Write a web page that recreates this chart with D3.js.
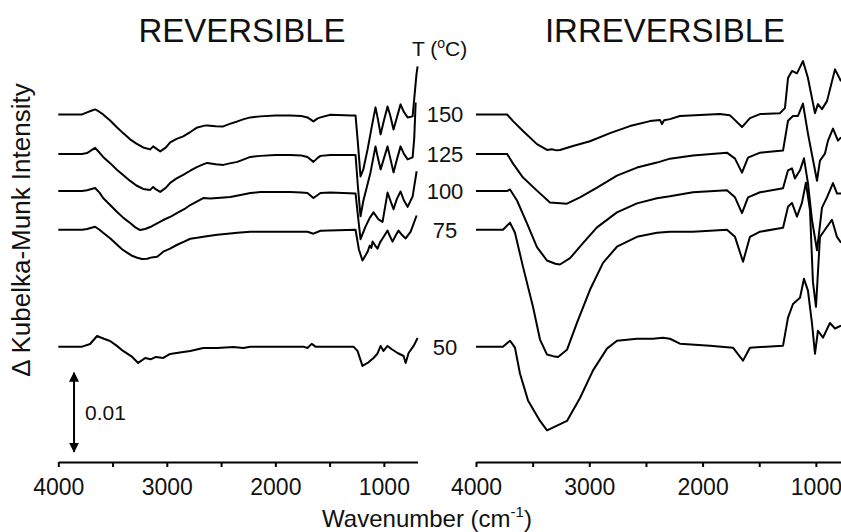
<!DOCTYPE html>
<html>
<head>
<meta charset="utf-8">
<script src="https://cdn.jsdelivr.net/npm/d3@7"></script>
<style>
  body { margin: 0; background: #fff; }
  svg text { font-family: Arial, "Liberation Sans", sans-serif; fill: #111; }
  .axis path, .axis line { stroke: #000; stroke-width: 2; }
  .axis text { font-size: 23px; }
  .trace { fill: none; stroke: #000; stroke-width: 2; stroke-linejoin: round; }
</style>
</head>
<body>
<div id="content"></div>
<script>
// spectra: [wavenumber (cm-1), change in K-M intensity (x 0.001) from the trace's own baseline]
var temps = ['150', '125', '100', '75', '50'];
var offsets = [44.0, 39.0, 34.3, 29.4, 14.6]; // x 0.001, vertical stacking
var xTicks = [4000, 3000, 2000, 1000];
var scaleBar = 10; // 0.01 in x 0.001 units

var rev150 = [[4000,0],[3781,0],[3735,0.25],[3690,0.5],[3661,0.63],[3630,0.4],[3587,0],[3520,-0.8],[3458,-1.65],[3400,-2.4],[3338,-3.16],[3280,-3.7],[3218,-4.18],[3153,-4.43],[3126,-4.05],[3100,-4.3],[3061,-4.68],[3010,-4.2],[2969,-3.54],[2910,-3.1],[2849,-2.78],[2780,-2.2],[2719,-1.65],[2660,-1.45],[2627,-1.39],[2550,-1.5],[2480,-1.52],[2420,-1.2],[2350,-0.89],[2290,-0.6],[2230,-0.38],[2138,-0.25],[2000,-0.15],[1861,-0.13],[1760,-0.2],[1704,-0.38],[1649,-0.89],[1610,-0.5],[1584,-0.38],[1492,-0.05],[1300,-0.13],[1261,-0.13],[1240,-3.5],[1215,-7.85],[1190,-7.0],[1150,-4.43],[1104,-1.01],[1077,0.89],[1055,-0.6],[1030,-2.53],[1000,-0.8],[966,1.01],[940,-0.2],[911,-1.9],[880,-0.4],[846,1.27],[815,0.3],[781,-0.38],[735,-0.25],[720,2.0],[700,5.0],[689,6.08]];
var rev125 = [[4000,0],[3781,0],[3735,0.1],[3690,0.5],[3661,0.76],[3630,0.3],[3587,-0.38],[3520,-1.2],[3458,-2.03],[3400,-2.7],[3338,-3.42],[3280,-4.0],[3218,-4.43],[3153,-4.56],[3126,-4.18],[3100,-4.5],[3061,-4.81],[3010,-4.3],[2969,-3.67],[2910,-3.1],[2849,-2.66],[2780,-2.1],[2719,-1.65],[2660,-1.3],[2627,-1.14],[2550,-1.3],[2480,-1.39],[2420,-1.2],[2350,-1.01],[2290,-0.7],[2230,-0.38],[2138,-0.25],[2000,-0.15],[1861,-0.13],[1760,-0.2],[1704,-0.38],[1649,-1.01],[1610,-0.5],[1584,-0.25],[1492,-0.13],[1261,-0.13],[1240,-4.0],[1215,-7.9],[1190,-6.0],[1123,-2.34],[1077,0.95],[1055,-0.5],[1030,-1.96],[1000,-0.6],[966,0.95],[940,-0.6],[911,-2.34],[880,-0.7],[846,0.95],[815,0.0],[781,-0.7],[735,-0.44],[720,2.0],[707,6.5]];
var rev100 = [[4000,0],[3781,0],[3735,0.1],[3661,0.38],[3620,-0.2],[3587,-0.89],[3520,-1.8],[3458,-2.66],[3400,-3.4],[3338,-4.05],[3290,-4.6],[3246,-4.94],[3200,-4.8],[3153,-4.56],[3090,-4.1],[3033,-3.67],[2960,-3.2],[2904,-2.78],[2840,-2.3],[2784,-1.77],[2720,-1.3],[2664,-0.89],[2600,-0.95],[2535,-0.89],[2415,-0.76],[2320,-0.5],[2230,-0.25],[2138,-0.13],[1861,-0.13],[1760,-0.2],[1704,-0.25],[1649,-0.89],[1610,-0.5],[1584,-0.25],[1492,-0.2],[1261,-0.3],[1240,-3.0],[1215,-6.1],[1169,-4.5],[1130,-3.4],[1095,-2.7],[1049,-3.6],[1012,-3.9],[966,-0.2],[940,-1.2],[911,-2.3],[880,-1.0],[846,-0.06],[815,-1.2],[781,-2.0],[735,-0.7],[698,2.5]];
var rev75 = [[4000,0],[3781,0],[3735,0.1],[3661,0.38],[3620,0],[3587,-0.38],[3520,-1.1],[3458,-1.9],[3410,-2.5],[3366,-2.9],[3320,-3.3],[3273,-3.54],[3230,-3.7],[3181,-3.67],[3140,-3.5],[3089,-3.42],[3060,-3.1],[3033,-2.78],[2970,-2.4],[2904,-1.9],[2840,-1.5],[2784,-1.14],[2720,-1.0],[2664,-0.89],[2600,-0.75],[2535,-0.63],[2440,-0.5],[2350,-0.38],[2230,-0.25],[1861,-0.25],[1704,-0.25],[1649,-0.5],[1584,-0.13],[1261,0],[1230,-2.5],[1197,-3.9],[1150,-2.8],[1130,-2.0],[1115,-2.3],[1104,-1.5],[1080,-2.0],[1058,-2.4],[1035,-1.6],[1012,-1.1],[966,-0.1],[945,-0.8],[920,-1.5],[890,-0.7],[865,-0.1],[830,-0.7],[799,-1.1],[753,-0.25],[698,1.8]];
var rev50 = [[4000,0],[3781,0],[3707,0.34],[3643,1.35],[3580,1.0],[3523,0.72],[3460,0.1],[3403,-0.54],[3319,-1.3],[3264,-2.06],[3199,-1.43],[3150,-1.6],[3100,-1.3],[3033,-1.43],[2969,-0.92],[2880,-0.75],[2784,-0.54],[2664,-0.16],[2535,-0.16],[2387,-0.04],[2295,-0.16],[2230,0],[1741,0],[1704,-0.16],[1665,0.35],[1630,0],[1280,0],[1243,-0.54],[1197,-2.44],[1150,-2.06],[1095,-1.43],[1060,-0.9],[1030,0.09],[1003,-0.54],[966,0.09],[930,-0.3],[874,-0.8],[818,-1.18],[799,-2.06],[772,-0.8],[726,0.09],[689,1.1]];

var irr150 = [[4000,0],[3726,0],[3673,-0.85],[3585,-2.1],[3462,-3.76],[3373,-4.5],[3330,-4.4],[3290,-4.55],[3259,-4.5],[3144,-4.0],[2994,-3.4],[2817,-2.37],[2641,-1.48],[2464,-0.85],[2376,-0.7],[2358,-1.23],[2340,-0.75],[2288,-0.6],[2200,-0.2],[1847,0.04],[1760,-0.1],[1732,-0.47],[1652,-1.6],[1582,-0.47],[1493,0.04],[1317,0.16],[1273,0.8],[1246,4.6],[1211,5.5],[1167,5.2],[1114,6.75],[1070,4.6],[1008,0.16],[982,1.3],[946,0.67],[902,1.68],[831,5.7],[778,4.2]];
var irr125 = [[4000,0],[3726,0],[3673,-1.23],[3585,-3.0],[3462,-4.65],[3347,-6.16],[3197,-6.3],[3082,-5.5],[2932,-4.27],[2756,-2.75],[2579,-1.73],[2403,-1.1],[2288,-0.6],[2085,-0.2],[1785,0.16],[1714,-0.6],[1652,-2.37],[1599,-0.47],[1493,0.16],[1290,0.42],[1246,4.2],[1202,4.8],[1158,4.8],[1114,6.36],[1070,2.57],[990,-3.4],[964,-0.85],[920,0.04],[893,1.68],[849,3.2],[805,1.68],[778,2.1]];
var irr100 = [[4000,0],[3726,0],[3700,0.2],[3638,-1.2],[3550,-4.1],[3462,-7.1],[3373,-8.8],[3300,-9.2],[3259,-9.3],[3170,-8.5],[3056,-6.6],[2932,-4.6],[2756,-2.7],[2579,-1.56],[2403,-0.92],[2288,-0.67],[2085,-0.16],[1785,0.09],[1714,-0.8],[1652,-2.8],[1599,-0.8],[1493,-0.16],[1290,0.34],[1246,2.62],[1211,2.87],[1185,1.6],[1140,2.62],[1105,4.14],[1070,1.0],[1034,-3.7],[990,-7.5],[946,-2.1],[902,-0.8],[849,1.0],[814,-0.3],[778,-0.3]];
var irr75 = [[4000,0],[3762,0],[3700,0.9],[3656,-0.38],[3585,-4.7],[3497,-9.75],[3435,-13.9],[3373,-15.8],[3320,-16.0],[3276,-16.1],[3197,-15.2],[3109,-11.8],[2994,-7.6],[2879,-4.2],[2756,-2.15],[2579,-0.9],[2403,-0.38],[2288,-0.25],[2085,-0.25],[1785,0],[1714,-0.9],[1643,-4.05],[1582,-0.9],[1493,-0.25],[1290,0.25],[1246,2.9],[1211,3.4],[1167,1.65],[1123,3.4],[1088,5.95],[1052,2.5],[1026,-6.6],[999,-9.75],[964,-0.9],[920,0],[858,1.27],[814,-0.9],[778,-1.65]];
var irr50 = [[4000,0],[3762,0],[3700,0.76],[3656,-0.13],[3612,-3.4],[3541,-6.8],[3435,-9.4],[3373,-10.6],[3285,-10.0],[3197,-9.4],[3082,-6.5],[2967,-3.0],[2844,-0.25],[2756,0.76],[2579,1.0],[2438,1.0],[2350,1.14],[2288,1.0],[2200,0.38],[1935,0.13],[1732,-0.13],[1643,-1.77],[1582,-0.13],[1290,0.13],[1246,3.67],[1202,5.4],[1140,6.2],[1105,8.6],[1070,7.1],[1034,2.9],[1008,-0.9],[982,2.0],[937,1.14],[876,3.0],[831,2.3],[778,2.66]];

var revSeries = [rev150, rev125, rev100, rev75, rev50];
var irrSeries = [irr150, irr125, irr100, irr75, irr50];

var svg_width = 841, svg_height = 532;
var axis_y = 462;

var svg = d3.select('#content').append('svg')
  .attr('width', svg_width).attr('height', svg_height);

var defs = svg.append('defs');
defs.append('marker')
  .attr('id', 'arrow')
  .attr('viewBox', '0 0 10 10')
  .attr('refX', 9).attr('refY', 5)
  .attr('markerUnits', 'userSpaceOnUse')
  .attr('markerWidth', 10).attr('markerHeight', 14)
  .attr('orient', 'auto-start-reverse')
  .append('path').attr('d', 'M0,0 L10,5 L0,10 Z').attr('fill', '#000');

// shared vertical scale, x 0.001 units
var yScale = d3.scaleLinear().domain([0, 50]).range([axis_y, 67]);

var xLeft = d3.scaleLinear().domain([4000, 690]).range([58.3, 417.5]);
var xRight = d3.scaleLinear().domain([4000, 690]).range([476, 851]);

function drawPanel(xScale, series, title, titleX) {
  var g = svg.append('g');

  g.append('g')
    .attr('class', 'axis')
    .attr('transform', 'translate(0,' + axis_y + ')')
    .call(d3.axisBottom(xScale)
      .tickValues(d3.range(4000, 600, -500))
      .tickSizeInner(5).tickSizeOuter(0).tickPadding(12)
      .tickFormat(function(d) { return xTicks.indexOf(d) >= 0 ? d : ''; }));

  series.forEach(function(s, i) {
    var line = d3.line()
      .x(function(d) { return xScale(d[0]); })
      .y(function(d) { return yScale(offsets[i] + d[1]); });
    g.append('path').attr('class', 'trace').attr('d', line(s));
  });

  svg.append('text')
    .attr('x', titleX).attr('y', 42)
    .attr('text-anchor', 'middle')
    .style('font-size', '33px')
    .text(title);
}

drawPanel(xLeft, revSeries, 'REVERSIBLE', 242);
drawPanel(xRight, irrSeries, 'IRREVERSIBLE', 665);

// temperature labels between the panels
svg.selectAll('.temp')
  .data(temps)
  .enter().append('text')
  .attr('class', 'temp')
  .attr('x', 445)
  .attr('y', function(d, i) { return yScale(offsets[i]); })
  .attr('dy', '0.36em')
  .attr('text-anchor', 'middle')
  .style('font-size', '22px')
  .text(function(d) { return d; });

var tLabel = svg.append('text')
  .attr('x', 412).attr('y', 56)
  .style('font-size', '21px');
tLabel.append('tspan').text('T (');
tLabel.append('tspan').attr('dy', -8).style('font-size', '14px').text('o');
tLabel.append('tspan').attr('dy', 8).text('C)');

// 0.01 scale bar
var barX = xLeft(3855);
svg.append('line')
  .attr('x1', barX).attr('x2', barX)
  .attr('y1', yScale(1.3)).attr('y2', yScale(1.3 + scaleBar))
  .attr('stroke', '#000').attr('stroke-width', 2)
  .attr('marker-start', 'url(#arrow)')
  .attr('marker-end', 'url(#arrow)');
svg.append('text')
  .attr('x', barX + 11)
  .attr('y', yScale(1.3 + scaleBar / 2))
  .attr('dy', '0.36em')
  .style('font-size', '21px')
  .text('0.01');

// axis titles
svg.append('text')
  .attr('transform', 'translate(30,230) rotate(-90)')
  .attr('text-anchor', 'middle')
  .style('font-size', '26px')
  .text('\u0394 Kubelka-Munk Intensity');

var xLabel = svg.append('text')
  .attr('x', 427).attr('y', 527)
  .attr('text-anchor', 'middle')
  .style('font-size', '24px');
xLabel.append('tspan').text('Wavenumber (cm');
xLabel.append('tspan').attr('dy', -10).style('font-size', '15px').text('-1');
xLabel.append('tspan').attr('dy', 10).text(')');
</script>
</body>
</html>
